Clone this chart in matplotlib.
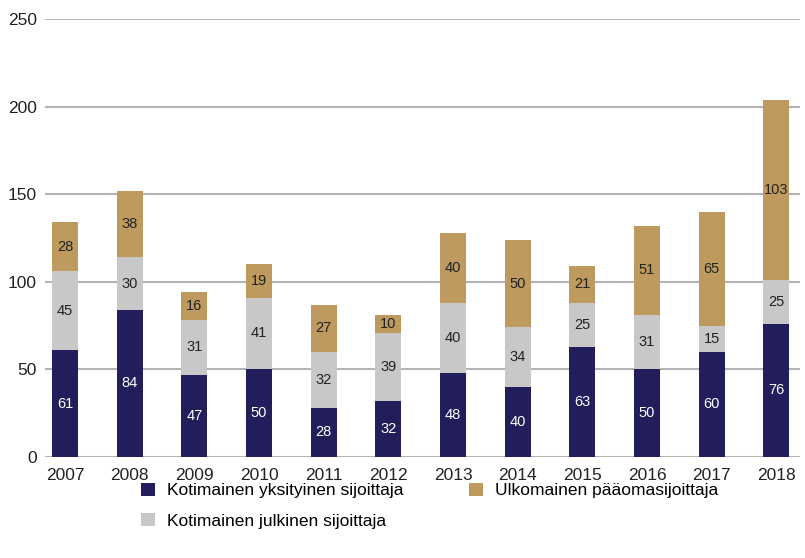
import numpy as np
import matplotlib.pyplot as plt

plt.rcParams['font.family'] = ['Liberation Sans', 'DejaVu Sans']

years = ['2007', '2008', '2009', '2010', '2011', '2012',
         '2013', '2014', '2015', '2016', '2017', '2018']
yksityinen = [61, 84, 47, 50, 28, 32, 48, 40, 63, 50, 60, 76]
julkinen = [45, 30, 31, 41, 32, 39, 40, 34, 25, 31, 15, 25]
ulkomainen = [28, 38, 16, 19, 27, 10, 40, 50, 21, 51, 65, 103]

c_navy = '#221E5C'
c_grey = '#C8C8C8'
c_gold = '#BE9A5E'

fig = plt.figure(figsize=(8.05, 5.58), dpi=100)
ax = fig.add_axes([0.056, 0.181, 0.938, 0.785])

x = np.arange(len(years))
w = 0.4
b1 = ax.bar(x, yksityinen, w, color=c_navy, label='Kotimainen yksityinen sijoittaja', zorder=2)
b2 = ax.bar(x, julkinen, w, bottom=yksityinen, color=c_grey,
            label='Kotimainen julkinen sijoittaja', zorder=2)
bottom3 = np.array(yksityinen) + np.array(julkinen)
b3 = ax.bar(x, ulkomainen, w, bottom=bottom3, color=c_gold,
            label='Ulkomainen pääomasijoittaja', zorder=2)

# value labels in the middle of each segment
for i in range(len(years)):
    ax.text(x[i], yksityinen[i] / 2, str(yksityinen[i]), ha='center', va='center',
            color='white', fontsize=10.5, zorder=3)
    ax.text(x[i], yksityinen[i] + julkinen[i] / 2, str(julkinen[i]), ha='center',
            va='center', color='#222222', fontsize=10.5, zorder=3)
    ax.text(x[i], bottom3[i] + ulkomainen[i] / 2, str(ulkomainen[i]), ha='center',
            va='center', color='#222222', fontsize=10.5, zorder=3)

ax.set_ylim(0, 250)
ax.set_yticks(range(0, 251, 50))
ax.set_xlim(-0.31, 11.37)
ax.set_xticks(x)
ax.set_xticklabels(years)
ax.yaxis.grid(True, color='#B3B3B3', linewidth=1.5, zorder=0)
ax.set_axisbelow(True)
for s in ax.spines.values():
    s.set_visible(False)
ax.tick_params(axis='both', length=0, labelsize=12.5, colors='#222222')
ax.tick_params(axis='y', pad=6)
ax.tick_params(axis='x', pad=8)

fig.legend(handles=[b1, b2, b3], loc='upper left', bbox_to_anchor=(0.175, 0.135), ncol=2,
           frameon=False, fontsize=12.5, handlelength=0.8, handleheight=0.8,
           columnspacing=3.8, labelspacing=0.85, handletextpad=0.7, borderpad=0,
           borderaxespad=0)

fig.savefig('out.png', dpi=100)
